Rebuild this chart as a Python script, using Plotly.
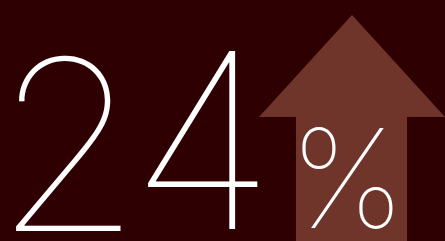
import plotly.graph_objects as go

value = [24]
suffix = ["%"]

W, H = 445, 241
bg = "#2e0002"
arrow_col = "#70352a"

# arrow outline in axis units
arrow_x = [259, 352, 445, 407, 407, 296, 296, 259]
arrow_y = [117, 15, 117, 117, 241, 241, 117, 117]

fig = go.Figure()
fig.add_trace(go.Scatter(x=arrow_x, y=arrow_y, fill="toself", fillcolor=arrow_col,
                         mode="lines", line=dict(width=0, color=arrow_col),
                         hoverinfo="skip", showlegend=False))

digits = str(value[0])
digit_cx = [68, 202]
digit_size = [238, 244]
for d, cx, sz in zip(digits, digit_cx, digit_size):
    fig.add_annotation(x=cx / W, y=(H - 290) / H, xref="paper", yref="paper", text=d,
                       showarrow=False, xanchor="center", yanchor="bottom",
                       font=dict(family="Inter", size=sz, color="white", weight=100))
fig.add_annotation(x=347 / W, y=(H - 263) / H, xref="paper", yref="paper", text=suffix[0],
                   showarrow=False, xanchor="center", yanchor="bottom",
                   font=dict(family="Inter", size=138, color="white", weight=100))

fig.update_layout(width=W, height=H, margin=dict(l=0, r=0, t=0, b=0),
                  paper_bgcolor=bg, plot_bgcolor=bg,
                  xaxis=dict(range=[0, W], visible=False, fixedrange=True),
                  yaxis=dict(range=[H, 0], visible=False, fixedrange=True))
fig.write_html("out.html", config={"displayModeBar": False},
               post_script="document.body.style.margin='0';document.body.style.background='%s';" % bg)
